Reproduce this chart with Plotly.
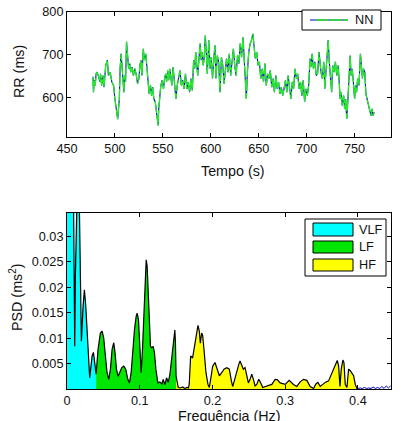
import plotly.graph_objects as go

# ---------------- data ----------------
# RR tachogram (time in s, RR in ms)
rr_time = [477.1, 477.6, 478.5, 479.5, 480.3, 481.4, 483.2, 484.3, 485.0, 486.1, 487.5, 488.6, 490.4, 492.1,
           493.2, 495.0, 496.8, 498.6, 500.0, 501.1, 502.1, 502.9, 503.6, 504.6, 505.4, 506.4, 507.1, 508.2,
           509.3, 510.0, 511.1, 512.1, 513.2, 514.3, 515.4, 516.4, 517.9, 519.3, 520.7, 522.1, 523.6, 525.0,
           526.1, 527.1, 528.2, 529.6, 530.7, 532.1, 533.2, 534.3, 535.7, 537.1, 538.2, 539.3, 540.7, 542.1,
           543.2, 544.3, 545.0, 545.7, 546.8, 547.9, 549.3, 550.7, 551.8, 552.9, 553.9, 555.0, 556.1, 557.1,
           558.2, 559.3, 560.7, 562.1, 563.6, 565.0, 566.4, 567.9, 569.3, 570.7, 572.1, 573.6, 575.0, 576.4,
           577.9, 579.3, 580.7, 582.1, 583.2, 584.3, 585.4, 586.4, 587.9, 588.9, 590.0, 591.1, 592.1, 593.2,
           594.3, 595.4, 596.4, 597.9, 599.3, 600.4, 601.8, 602.9, 604.3, 605.4, 606.8, 608.2, 609.6, 611.1,
           612.5, 613.9, 615.0, 616.4, 617.9, 619.3, 620.7, 622.1, 623.6, 625.0, 626.4, 627.9, 629.3, 630.7,
           632.1, 633.6, 635.0, 636.1, 637.1, 638.2, 639.6, 641.1, 642.5, 643.9, 645.0, 646.4, 647.9, 649.3,
           650.7, 652.1, 653.6, 655.0, 656.4, 657.9, 659.3, 660.7, 662.1, 663.6, 665.0, 666.4, 667.9, 669.3,
           670.7, 672.1, 673.6, 675.0, 676.4, 677.9, 679.3, 680.7, 682.1, 683.6, 685.0, 686.4, 687.9, 689.3,
           690.7, 692.1, 693.6, 695.0, 696.4, 697.9, 699.3, 700.7, 702.1, 703.6, 704.6, 705.7, 707.1, 708.6,
           710.0, 711.4, 712.9, 713.9, 715.0, 716.4, 717.9, 718.9, 720.0, 721.4, 722.5, 723.6, 725.0, 726.1,
           727.1, 728.6, 730.0, 731.4, 732.9, 733.9, 735.0, 736.1, 737.1, 738.6, 739.6, 740.7, 741.8, 742.9,
           744.3, 745.4, 746.4, 747.5, 748.6, 750.0, 751.1, 752.1, 753.2, 754.6, 756.1, 757.1, 758.2, 759.3,
           760.7, 761.8, 763.2, 764.6, 765.7, 767.1, 768.2, 769.3, 770.4]
rr_ms = [648, 612, 640, 628, 655, 659, 647, 636, 655, 628, 651, 624, 675, 687,
         651, 659, 636, 628, 596, 573, 565, 549, 569, 596, 667, 702, 683, 644,
         612, 651, 636, 730, 691, 667, 679, 659, 671, 651, 667, 655, 632, 644,
         675, 687, 651, 714, 687, 702, 675, 644, 608, 628, 604, 624, 596, 589,
         565, 546, 534, 573, 604, 628, 640, 620, 644, 655, 636, 663, 640, 667,
         651, 628, 671, 636, 596, 628, 647, 663, 628, 640, 620, 655, 620, 636,
         612, 644, 616, 687, 667, 706, 675, 651, 698, 726, 687, 706, 675, 694,
         745, 675, 655, 734, 667, 694, 644, 683, 722, 644, 698, 683, 612, 694,
         675, 632, 667, 691, 659, 702, 651, 675, 714, 675, 651, 698, 679, 726,
         694, 741, 691, 644, 596, 659, 706, 726, 734, 749, 714, 691, 706, 675,
         683, 644, 667, 636, 679, 628, 655, 644, 663, 624, 644, 612, 651, 620,
         636, 608, 624, 604, 620, 640, 612, 651, 624, 596, 636, 620, 667, 644,
         655, 620, 636, 604, 640, 589, 620, 604, 628, 691, 671, 702, 667, 683,
         651, 655, 706, 679, 659, 644, 683, 620, 651, 698, 734, 683, 636, 612,
         675, 659, 683, 651, 675, 640, 596, 612, 581, 604, 573, 596, 549, 589,
         636, 698, 651, 667, 640, 596, 628, 612, 644, 628, 702, 675, 644, 667,
         659, 608, 596, 581, 569, 557, 573, 557, 565]

# Power spectral density (Hz, ms^2)
psd_freq = [0.0000, 0.0040, 0.0085, 0.0100, 0.0106, 0.0115, 0.0124, 0.0150, 0.0170, 0.0185, 0.0198,
            0.0220, 0.0239, 0.0257, 0.0276, 0.0294, 0.0312, 0.0345, 0.0363, 0.0381, 0.0400,
            0.0427, 0.0459, 0.0482, 0.0505, 0.0528, 0.0551, 0.0574, 0.0597, 0.0620, 0.0643, 0.0661,
            0.0680, 0.0703, 0.0726, 0.0753, 0.0781, 0.0808, 0.0836, 0.0859, 0.0882, 0.0905, 0.0928,
            0.0951, 0.0965, 0.0983, 0.1001, 0.1020, 0.1038, 0.1056, 0.1075, 0.1089, 0.1102, 0.1116,
            0.1130, 0.1148, 0.1167, 0.1185, 0.1203, 0.1222, 0.1249, 0.1277, 0.1305, 0.1323, 0.1346,
            0.1369, 0.1392, 0.1415, 0.1438, 0.1461, 0.1474, 0.1483, 0.1491, 0.1500,
            0.1530, 0.1560, 0.1590, 0.1620, 0.1650, 0.1670,
            0.1681, 0.1700, 0.1727, 0.1755, 0.1782, 0.1801, 0.1819, 0.1833, 0.1851, 0.1865, 0.1883,
            0.1911, 0.1938, 0.1957, 0.1975, 0.2003, 0.2035, 0.2067, 0.2095, 0.2127, 0.2159, 0.2196,
            0.2232, 0.2260, 0.2278, 0.2306, 0.2333, 0.2361, 0.2379, 0.2402, 0.2425, 0.2448, 0.2471,
            0.2494, 0.2517, 0.2540, 0.2563, 0.2586, 0.2609, 0.2637, 0.2664, 0.2692, 0.2729, 0.2770,
            0.2816, 0.2862, 0.2894, 0.2931, 0.3000, 0.3055, 0.3114, 0.3160, 0.3206, 0.3252, 0.3298,
            0.3344, 0.3390, 0.3422, 0.3450, 0.3482, 0.3514, 0.3551, 0.3597, 0.3633, 0.3666, 0.3698,
            0.3716, 0.3735, 0.3753, 0.3771, 0.3794, 0.3808, 0.3826, 0.3849, 0.3872, 0.3895, 0.3918,
            0.3941, 0.3964, 0.3987, 0.4000,
            0.4030, 0.4060, 0.4090, 0.4120, 0.4150, 0.4180, 0.4210, 0.4240, 0.4270, 0.4300, 0.4330,
            0.4360, 0.4390, 0.4420, 0.4450]
psd_val = [0.0500, 0.0520, 0.0460, 0.0280, 0.0084, 0.0220, 0.0400, 0.0460, 0.0360, 0.0180, 0.0094,
           0.0160, 0.0195, 0.0166, 0.0110, 0.0045, 0.0022, 0.0065, 0.0072, 0.0052, 0.0029,
           0.0078, 0.0110, 0.0114, 0.0100, 0.0065, 0.0032, 0.0019, 0.0039, 0.0078, 0.0091, 0.0071,
           0.0039, 0.0025, 0.0032, 0.0042, 0.0045, 0.0039, 0.0019, 0.0012, 0.0032, 0.0078, 0.0117,
           0.0143, 0.0149, 0.0136, 0.0091, 0.0032, 0.0078, 0.0136, 0.0202, 0.0254, 0.0241, 0.0189,
           0.0123, 0.0084, 0.0081, 0.0084, 0.0071, 0.0039, 0.0012, 0.0014, 0.0010, 0.0019, 0.0008,
           0.0022, 0.0013, 0.0029, 0.0058, 0.0084, 0.0110, 0.0116, 0.0092, 0.0025,
           0.0003, 0.0002, 0.0004, 0.0001, 0.0003, 0.0002,
           0.0010, 0.0065, 0.0061, 0.0084, 0.0104, 0.0125, 0.0114, 0.0090, 0.0110, 0.0106, 0.0078,
           0.0032, 0.0009, 0.0003, 0.0019, 0.0045, 0.0052, 0.0039, 0.0026, 0.0032, 0.0039, 0.0042,
           0.0039, 0.0016, 0.0005, 0.0019, 0.0035, 0.0048, 0.0055, 0.0048, 0.0039, 0.0042, 0.0029,
           0.0012, 0.0019, 0.0029, 0.0019, 0.0006, 0.0009, 0.0019, 0.0012, 0.0003, 0.0005, 0.0007,
           0.0009, 0.0019, 0.0018, 0.0012, 0.0009, 0.0017, 0.0009, 0.0005, 0.0014, 0.0019, 0.0017,
           0.0005, 0.0001, 0.0010, 0.0013, 0.0005, 0.0009, 0.0013, 0.0016, 0.0029, 0.0042, 0.0052,
           0.0056, 0.0045, 0.0005, 0.0039, 0.0057, 0.0052, 0.0009, 0.0003, 0.0039, 0.0036, 0.0032,
           0.0026, 0.0009, 0.0001, 0.0001,
           0.0002, 0.0001, 0.0003, 0.0001, 0.0002, 0.0001, 0.0004, 0.0001, 0.0003, 0.0001, 0.0005,
           0.0001, 0.0006, 0.0002, 0.0006]

band_names = ["VLF", "LF", "HF"]
band_limits = [(0.0, 0.04), (0.04, 0.15), (0.15, 0.40)]
band_colors = ["#00FFFF", "#00E600", "#FFFF00"]

rr_xticks = [450, 500, 550, 600, 650, 700, 750]
rr_yticks = [600, 700, 800]
psd_xticks = [0, 0.1, 0.2, 0.3, 0.4]
psd_xticklabels = ["0", "0.1", "0.2", "0.3", "0.4"]
psd_yticks = [0.005, 0.01, 0.015, 0.02, 0.025, 0.03]
psd_yticklabels = ["0.005", "0.01", "0.015", "0.02", "0.025", "0.03"]

# ---------------- figure ----------------
W, H = 414, 421
FONT = "Liberation Sans, Arial, sans-serif"
BLUE = "#0000B4"
GREEN = "#22EE22"


def px(x):
    return x / W


def py(y):
    return 1 - y / H


fig = go.Figure()

# top: RR series
fig.add_trace(go.Scatter(x=rr_time, y=rr_ms, mode="lines", line=dict(color=BLUE, width=1.1),
                         showlegend=False, hoverinfo="skip", xaxis="x", yaxis="y"))
fig.add_trace(go.Scatter(x=rr_time, y=rr_ms, mode="lines", line=dict(color=GREEN, width=1.3, dash="12px,2px"),
                         showlegend=False, hoverinfo="skip", xaxis="x", yaxis="y"))

# bottom: band fills
for (lo, hi), col in zip(band_limits, band_colors):
    fx = [f for f in psd_freq if lo <= f <= hi]
    fy = [v for f, v in zip(psd_freq, psd_val) if lo <= f <= hi]
    fig.add_trace(go.Scatter(x=fx, y=fy, mode="lines", fill="tozeroy", fillcolor=col, hoverinfo="skip",
                             line=dict(width=0, color=col), showlegend=False, xaxis="x2", yaxis="y2"))

hi_limit = band_limits[-1][1]
in_x = [f for f in psd_freq if f <= hi_limit]
in_y = [v for f, v in zip(psd_freq, psd_val) if f <= hi_limit]
out_x = [f for f in psd_freq if f >= hi_limit]
out_y = [v for f, v in zip(psd_freq, psd_val) if f >= hi_limit]
fig.add_trace(go.Scatter(x=out_x, y=out_y, mode="lines", line=dict(color="#0000CC", width=1), hoverinfo="skip",
                         showlegend=False, xaxis="x2", yaxis="y2"))
fig.add_trace(go.Scatter(x=in_x, y=in_y, mode="lines", line=dict(color="black", width=1.2), hoverinfo="skip",
                         showlegend=False, xaxis="x2", yaxis="y2"))

axis_common = dict(showline=True, linecolor="black", linewidth=1, mirror="ticks", ticks="inside",
                   ticklen=4, tickcolor="black", showgrid=False, zeroline=False, automargin=False,
                   ticklabeloverflow="allow",
                   tickfont=dict(family=FONT, size=12.7, color="#111"))

fig.update_layout(
    template="none",
    width=W, height=H,
    margin=dict(l=0, r=0, t=0, b=0, autoexpand=False),
    paper_bgcolor="white", plot_bgcolor="white",
    hovermode=False,
    xaxis=dict(domain=[px(67), px(391)], range=[450, 788], tickvals=rr_xticks, anchor="y", **axis_common),
    yaxis=dict(domain=[py(137), py(12)], range=[507, 800], tickvals=rr_yticks, anchor="x", **axis_common),
    xaxis2=dict(domain=[px(67), px(391)], range=[0, 0.4455], tickvals=psd_xticks, ticktext=psd_xticklabels,
                anchor="y2", **axis_common),
    yaxis2=dict(domain=[py(389), py(213)], range=[0, 0.0346], tickvals=psd_yticks, ticktext=psd_yticklabels,
                anchor="x2", **axis_common),
)

ann = []
ann.append(dict(text="Tempo (s)", x=px(233), y=py(171), xref="paper", yref="paper", showarrow=False,
                font=dict(family=FONT, size=14.3, color="#111"), xanchor="center", yanchor="middle"))
ann.append(dict(text="RR (ms)", x=px(19), y=py(72), xref="paper", yref="paper", showarrow=False, textangle=-90,
                font=dict(family=FONT, size=14.3, color="#111"), xanchor="center", yanchor="middle"))
ann.append(dict(text="Frequência (Hz)", x=px(229), y=py(416), xref="paper", yref="paper", showarrow=False,
                font=dict(family=FONT, size=14.3, color="#111"), xanchor="center", yanchor="middle"))
ann.append(dict(text="PSD (ms<sup>2</sup>)", x=px(16), y=py(297), xref="paper", yref="paper", showarrow=False,
                textangle=-90, font=dict(family=FONT, size=14.3, color="#111"), xanchor="center",
                yanchor="middle"))

shapes = []
# top legend
shapes.append(dict(type="rect", xref="paper", yref="paper", x0=px(302), x1=px(381), y0=py(30), y1=py(10),
                   line=dict(color="black", width=1), fillcolor="white"))
shapes.append(dict(type="line", xref="paper", yref="paper", x0=px(310), x1=px(348), y0=py(20), y1=py(20),
                   line=dict(color=BLUE, width=1.1)))
shapes.append(dict(type="line", xref="paper", yref="paper", x0=px(316), x1=px(348), y0=py(20), y1=py(20),
                   line=dict(color=GREEN, width=1.3, dash="12px,2px")))
ann.append(dict(text="NN", x=px(353), y=py(20), xref="paper", yref="paper", showarrow=False,
                font=dict(family=FONT, size=12.7, color="#111"), xanchor="left", yanchor="middle"))

# bottom legend
shapes.append(dict(type="rect", xref="paper", yref="paper", x0=px(305), x1=px(386), y0=py(276), y1=py(219),
                   line=dict(color="black", width=1), fillcolor="white"))
rows = [(223, 236), (241, 253), (259, 271)]
for name, col, (r0, r1) in zip(band_names, band_colors, rows):
    shapes.append(dict(type="rect", xref="paper", yref="paper", x0=px(313), x1=px(353), y0=py(r1), y1=py(r0),
                       line=dict(color="black", width=1), fillcolor=col))
    ann.append(dict(text=name, x=px(357), y=py((r0 + r1) / 2), xref="paper", yref="paper", showarrow=False,
                    font=dict(family=FONT, size=12.7, color="#111"), xanchor="left", yanchor="middle"))

fig.update_layout(annotations=ann, shapes=shapes)

# remove the default page margin so the figure fills the window exactly
fig.write_html("out.html", config={"displayModeBar": False, "staticPlot": True},
               post_script="document.body.style.margin='0';document.body.style.overflow='hidden';")
